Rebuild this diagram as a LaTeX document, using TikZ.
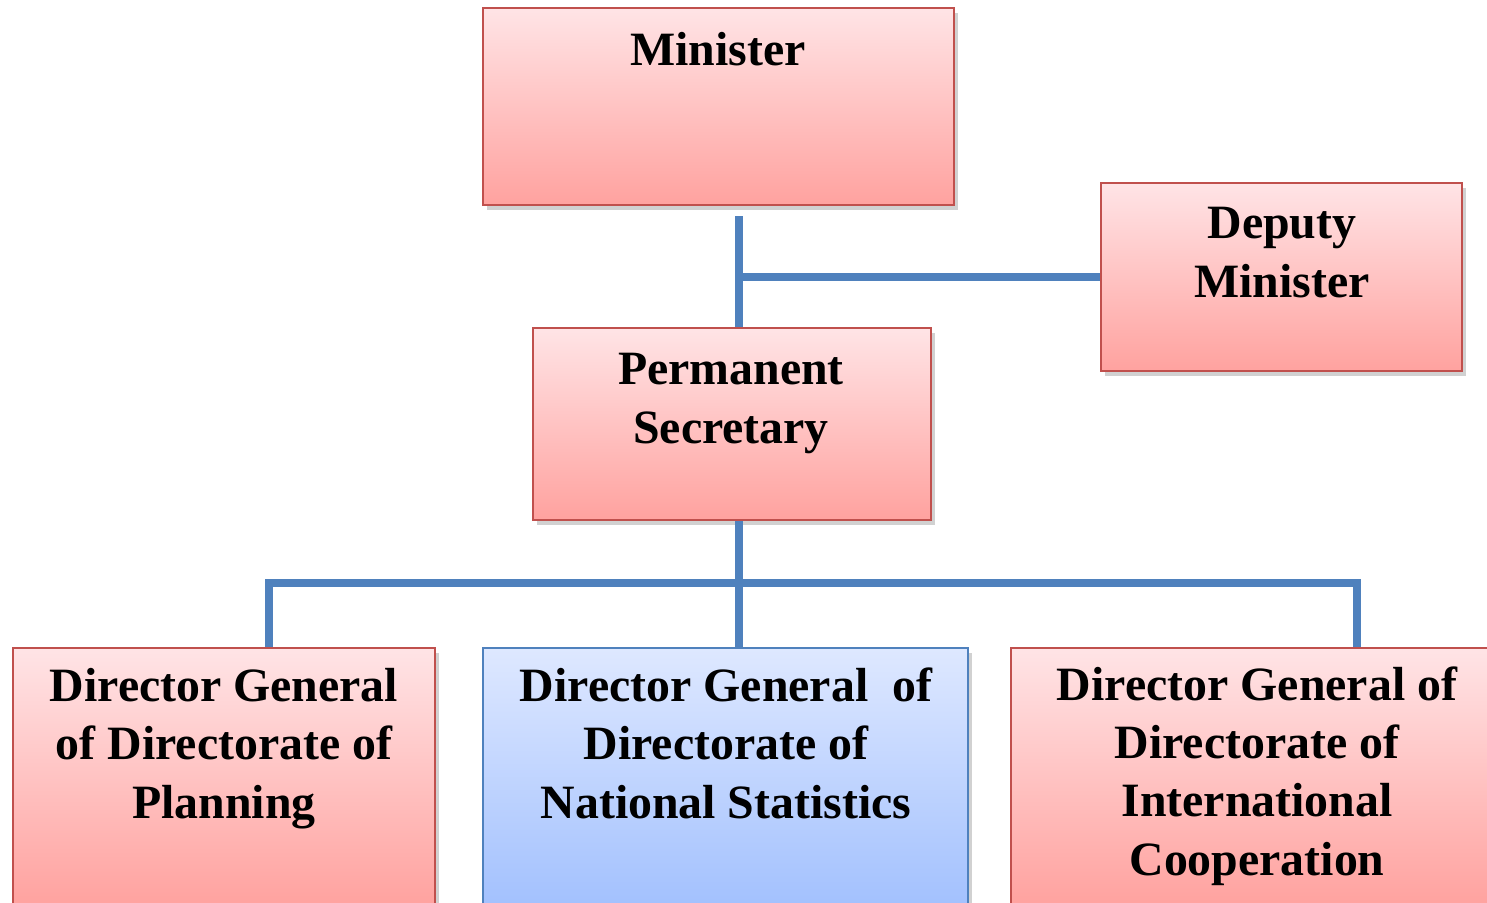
\documentclass[tikz,border=0pt]{standalone}
\usepackage{fontspec}
\setmainfont{Liberation Serif}
\usetikzlibrary{fit,shadows}

\definecolor{redline}{HTML}{C0504D}
\definecolor{redtop}{HTML}{FFE4E6}
\definecolor{redbot}{HTML}{FFA29F}
\definecolor{blueline}{HTML}{4F81BD}
\definecolor{bluetop}{HTML}{DEE8FF}
\definecolor{bluebot}{HTML}{A3C1FE}

\tikzset{
    box/.style={draw=redline, line width=0.7pt, inner sep=0pt,
        top color=redtop, bottom color=redbot,
        drop shadow={shadow xshift=1pt, shadow yshift=-1.5pt, opacity=0.3, fill=black!60}},
    bluebox/.style={box, draw=blueline, top color=bluetop, bottom color=bluebot},
    txt/.style={font=\bfseries\fontsize{13.6}{16.5}\selectfont, align=center, anchor=base, inner sep=0pt},
    link/.style={draw=blueline, line width=2.3pt}
}

\begin{document}
\begin{tikzpicture}[x=0.01cm, y=-0.01cm]

\useasboundingbox (0,0) rectangle (1487,903);
\clip (0,0) rectangle (1487,903);

\foreach \nm/\xa/\ya/\xb/\yb/\sty in {minister/483/8/954/205/box,
    deputy/1101/183/1462/371/box, perm/533/328/931/520/box,
    plan/13/648/435/905/box, nat/483/648/968/905/bluebox,
    intl/1011/648/1500/905/box}
{
    \node[\sty, fit={(\xa,\yb) (\xb,\ya)}] (\nm) {};
}

% titles (base = last line)
\node[txt] (ministerT) at (718,65) {Minister};
\node[txt] (deputyT) at (1282,297) {Deputy\\Minister};
\node[txt] (permT) at (731,443) {Permanent\\Secretary};
\node[txt] (planT) at (224,818) {Director General\\of Directorate of\\Planning};
\node[txt] (natT) at (726,818) {Director General~~of\\Directorate of\\National Statistics};
\node[txt] (intlT) at (1257,875) {Director General of\\Directorate of\\International\\Cooperation};

% lines
\coordinate (top) at (739,216);
\coordinate (jn) at (739,277);
\coordinate (bus) at (739,583);
\coordinate (busL) at (269,583);
\coordinate (busR) at (1357,583);

\draw[link] (top) -- (top |- perm.north);
\draw[link] (jn) -- (deputy.west);
\draw[link] (bus |- perm.south) -- (bus |- nat.north);
\draw[link] (busL |- plan.north) -- (busL) -- (busR) -- (busR |- intl.north);

\end{tikzpicture}
\end{document}
